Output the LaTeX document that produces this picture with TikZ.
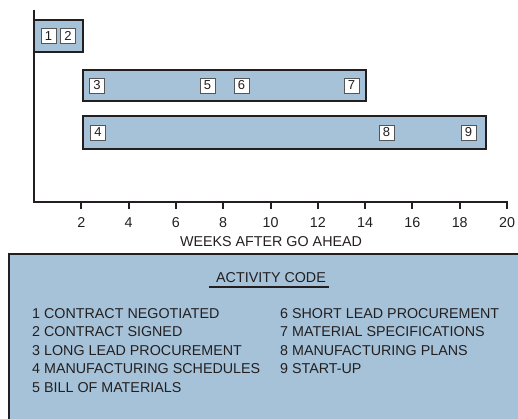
\documentclass[tikz,border=0pt]{standalone}
\usepackage{fontspec}
\setmainfont{Liberation Sans}
\definecolor{barfill}{HTML}{A5C2D8}
\definecolor{edge}{HTML}{231F20}
\definecolor{boxedge}{HTML}{555555}
\tikzset{
  bar/.style={draw=edge, fill=barfill, line width=2.5pt},
  axis/.style={draw=edge, line width=2pt},
  code/.style={draw=boxedge, fill=white, line width=0.9pt, minimum width=15pt, minimum height=15pt, inner sep=0pt, font=\fontsize{13}{15}\selectfont, text=edge},
  ticklab/.style={anchor=base, inner sep=0pt, font=\fontsize{14.3}{16}\selectfont, text=edge},
  legtext/.style={anchor=base west, inner sep=0pt, font=\fontsize{14.3}{16}\selectfont, text=edge},
}
\begin{document}
\begin{tikzpicture}[x=1pt, y=-1pt]
\useasboundingbox (0,0) rectangle (518,418);
% legend panel
\begin{scope}
\clip (0,0) rectangle (518,418);
\draw[bar, line width=2.5pt] (9,254) rectangle (540,440);
\end{scope}
% bars
\draw[bar] (34,20) rectangle (83,52);
\draw[bar] (83,70) rectangle (366,101);
\draw[bar] (83,116) rectangle (486,149);
% code boxes
\node[code] (c1) at (48.5,36) {1};
\node[code] (c2) at (68,36) {2};
\node[code] (c3) at (97,85.5) {3};
\node[code] (c5) at (207.5,85.5) {5};
\node[code] (c6) at (241.5,85.5) {6};
\node[code] (c7) at (351.5,85.5) {7};
\node[code] (c4) at (98,132.5) {4};
\node[code] (c8) at (386.5,132.5) {8};
\node[code] (c9) at (468.5,132.5) {9};
% axes
\coordinate (top) at (34,10);
\coordinate (orig) at (34,202);
\coordinate (xend) at (508,202);
\draw[axis] (top) -- (orig) -- (xend);
\foreach \w in {2,4,...,20} {
  \draw[axis] (34+23.65*\w,202) -- (34+23.65*\w,209);
  \node[ticklab] (t\w) at (34+23.65*\w,227) {\w};
}
\node[ticklab] (xtitle) at (271,246) {WEEKS AFTER GO AHEAD};
% legend
\node[ticklab] (lt) at (271,282) {ACTIVITY CODE};
\draw[edge, line width=2pt] (209,287) -- (329,287);
\node[legtext] (l1) at (32,318) {1 CONTRACT NEGOTIATED};
\node[legtext] (l2) at (32,336.5) {2 CONTRACT SIGNED};
\node[legtext] (l3) at (32,355) {3 LONG LEAD PROCUREMENT};
\node[legtext] (l4) at (32,373.5) {4 MANUFACTURING SCHEDULES};
\node[legtext] (l5) at (32,392) {5 BILL OF MATERIALS};
\node[legtext] (l6) at (280,318) {6 SHORT LEAD PROCUREMENT};
\node[legtext] (l7) at (280,336.5) {7 MATERIAL SPECIFICATIONS};
\node[legtext] (l8) at (280,355) {8 MANUFACTURING PLANS};
\node[legtext] (l9) at (280,373.5) {9 START-UP};
\end{tikzpicture}
\end{document}
